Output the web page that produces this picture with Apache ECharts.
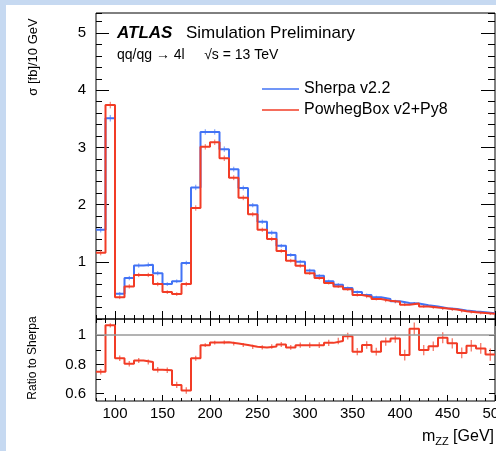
<!DOCTYPE html>
<html>
<head>
<meta charset="utf-8">
<script src="https://cdn.jsdelivr.net/npm/echarts@6/dist/echarts.min.js"></script>
<style>
html, body { margin: 0; padding: 0; background: #c6d9f1; }
#wrap { position: relative; width: 496px; height: 451px; background: #c6d9f1; overflow: hidden; }
#paper { position: absolute; left: 6px; top: 5px; right: 0; bottom: 0; background: #fff; }
#chart { position: absolute; left: 0; top: 0; width: 496px; height: 451px; }
</style>
</head>
<body>
<div id="wrap"><div id="paper"></div><div id="chart"></div></div>
<script>
// bin edges of m_ZZ [GeV], 10 GeV bins
var binEdges = [80, 90, 100, 110, 120, 130, 140, 150, 160, 170, 180, 190, 200, 210, 220, 230, 240, 250, 260, 270, 280,
    290, 300, 310, 320, 330, 340, 350, 360, 370, 380, 390, 400, 410, 420, 430, 440, 450, 460, 470, 480, 490, 500];
// sigma [fb] / 10 GeV
var sherpa = [1.56, 3.51, 0.44, 0.715, 0.935, 0.95, 0.80, 0.61, 0.66, 0.98,
    2.30, 3.27, 3.27, 2.97, 2.62, 2.29, 1.99, 1.70, 1.51, 1.28,
    1.12, 1.00, 0.85, 0.755, 0.66, 0.60, 0.54, 0.47, 0.42, 0.38,
    0.35, 0.31, 0.28, 0.27, 0.24, 0.22, 0.19, 0.175, 0.15, 0.13,
    0.12, 0.10];
var powheg = [1.16, 3.74, 0.38, 0.57, 0.77, 0.77, 0.61, 0.47, 0.435, 0.61,
    1.94, 3.01, 3.09, 2.81, 2.47, 2.12, 1.83, 1.56, 1.40, 1.19,
    1.02, 0.93, 0.80, 0.715, 0.63, 0.57, 0.52, 0.42, 0.39, 0.35,
    0.32, 0.30, 0.25, 0.27, 0.22, 0.20, 0.185, 0.165, 0.135, 0.12,
    0.105, 0.09];
// stat. errors, both generators (small)
var xsErr = [0.03, 0.04, 0.015, 0.02, 0.02, 0.02, 0.02, 0.015, 0.015, 0.02,
    0.03, 0.03, 0.03, 0.03, 0.025, 0.025, 0.02, 0.02, 0.02, 0.015,
    0.015, 0.015, 0.012, 0.012, 0.01, 0.01, 0.01, 0.01, 0.008, 0.008,
    0.008, 0.008, 0.007, 0.007, 0.006, 0.006, 0.006, 0.005, 0.005, 0.005,
    0.005, 0.004];
// Powheg / Sherpa
var ratio = [0.749, 1.067, 0.842, 0.804, 0.827, 0.816, 0.764, 0.76, 0.66, 0.622,
    0.842, 0.931, 0.949, 0.951, 0.942, 0.933, 0.92, 0.916, 0.922, 0.936,
    0.916, 0.931, 0.931, 0.931, 0.947, 0.96, 0.993, 0.887, 0.933, 0.887,
    0.956, 0.976, 0.864, 1.044, 0.898, 0.924, 0.982, 0.944, 0.878, 0.927,
    0.909, 0.867];
var ratioErr = [0.012, 0.008, 0.012, 0.012, 0.01, 0.01, 0.012, 0.012, 0.015, 0.015,
    0.01, 0.006, 0.006, 0.006, 0.006, 0.007, 0.008, 0.008, 0.009, 0.01,
    0.01, 0.011, 0.012, 0.013, 0.014, 0.015, 0.016, 0.018, 0.019, 0.02,
    0.021, 0.022, 0.03, 0.035, 0.028, 0.025, 0.03, 0.028, 0.03, 0.032,
    0.03, 0.035];
// tick labels
var xLabels = [100, 150, 200, 250, 300, 350, 400, 450, 500];
var yLabels = [1, 2, 3, 4, 5];
var rLabels = [0.6, 0.8, 1];
var rMinor = [0.7, 0.9];

var BLUE = '#4273f5';
var RED = '#f23c26';
var FONT = 'Liberation Sans';

function steps(vals) {
    var d = [];
    for (var i = 0; i < vals.length; i++) {
        d.push([binEdges[i], vals[i]]);
    }
    d.push([binEdges[vals.length], vals[vals.length - 1]]);
    return d;
}

function errPoints(vals, errs) {
    var d = [];
    for (var i = 0; i < vals.length; i++) {
        d.push([(binEdges[i] + binEdges[i + 1]) / 2, vals[i], errs[i]]);
    }
    return d;
}

// little vertical error bar at the bin centre
function errBars(name, xi, yi, vals, errs, color, w) {
    return {
        name: name, type: 'custom', xAxisIndex: xi, yAxisIndex: yi,
        data: errPoints(vals, errs),
        encode: { x: 0, y: 1 },
        renderItem: function (params, api) {
            var c = api.value(0), v = api.value(1), e = api.value(2);
            var p1 = api.coord([c, v + e]);
            var p2 = api.coord([c, v - e]);
            return {
                type: 'line',
                shape: { x1: p1[0], y1: p1[1] - 1, x2: p2[0], y2: p2[1] + 1 },
                style: { stroke: color, lineWidth: w, opacity: 0.75 }
            };
        },
        z: 3
    };
}

// one axis = one set of ticks, the frame comes from the grid border
function xAx(grid, pos, len, custom, labels) {
    var a = {
        type: 'value', gridIndex: grid, position: pos, min: 80, max: 500,
        axisLine: { show: false }, splitLine: { show: false },
        axisTick: { show: true, inside: true, length: len, lineStyle: { color: '#000', width: 1 } },
        axisLabel: { show: false }
    };
    if (custom) a.axisTick.customValues = custom; else a.interval = 10;
    if (labels) {
        a.axisLabel = { show: true, customValues: labels, margin: 5, color: '#000',
            fontFamily: FONT, fontSize: 15, alignMinLabel: 'center', alignMaxLabel: 'center' };
    }
    return a;
}

function yAx(grid, pos, min, max, len, custom, labels, fmt) {
    var a = {
        type: 'value', gridIndex: grid, position: pos, min: min, max: max,
        axisLine: { show: false }, splitLine: { show: false },
        axisTick: { show: true, inside: true, length: len, lineStyle: { color: '#000', width: 1 } },
        axisLabel: { show: false }
    };
    if (custom) a.axisTick.customValues = custom; else a.interval = 0.2;
    if (labels) {
        a.axisLabel = { show: true, customValues: labels, margin: 10, color: '#000',
            fontFamily: FONT, fontSize: 15, formatter: fmt };
    }
    return a;
}

var chart = echarts.init(document.getElementById('chart'), null, { renderer: 'canvas' });

var option = {
    backgroundColor: 'transparent',
    animation: false,
    grid: [
        { left: 96, top: 13, right: 1, height: 306, show: true, borderColor: '#000', borderWidth: 1,
            containLabel: false, outerBoundsMode: 'none' },
        { left: 96, top: 319, right: 1, height: 82, show: true, borderColor: '#000', borderWidth: 1,
            containLabel: false, outerBoundsMode: 'none' }
    ],
    xAxis: [
        xAx(0, 'bottom', 4),
        xAx(0, 'bottom', 8, xLabels),
        xAx(0, 'top', 4),
        xAx(0, 'top', 7, xLabels),
        xAx(1, 'bottom', 3),
        xAx(1, 'bottom', 6, xLabels, xLabels)
    ],
    yAxis: [
        yAx(0, 'left', 0, 5.35, 6),
        yAx(0, 'left', 0, 5.35, 13, yLabels, yLabels),
        yAx(0, 'right', 0, 5.35, 7),
        yAx(0, 'right', 0, 5.35, 14, yLabels),
        yAx(1, 'left', 0.55, 1.11, 5, rMinor),
        yAx(1, 'left', 0.55, 1.11, 8, rLabels, rLabels, function (v) { return String(v); }),
        yAx(1, 'right', 0.55, 1.11, 6, rLabels.concat(rMinor))
    ],
    legend: {
        left: 262, top: 81, padding: 0, orient: 'vertical', itemGap: 5, icon: 'rect',
        itemWidth: 37, itemHeight: 1.5,
        textStyle: { fontFamily: FONT, fontSize: 16, color: '#000', lineHeight: 15 },
        data: ['Sherpa v2.2', 'PowhegBox v2+Py8']
    },
    series: [
        {
            name: 'Sherpa v2.2', type: 'line', step: 'end', xAxisIndex: 0, yAxisIndex: 0,
            data: steps(sherpa), symbol: 'none', color: BLUE,
            lineStyle: { color: BLUE, width: 2 }
        },
        errBars('sherpa err', 0, 0, sherpa, xsErr, BLUE, 1),
        {
            name: 'PowhegBox v2+Py8', type: 'line', step: 'end', xAxisIndex: 0, yAxisIndex: 0,
            data: steps(powheg), symbol: 'none', color: RED,
            lineStyle: { color: RED, width: 2 }, z: 3
        },
        errBars('powheg err', 0, 0, powheg, xsErr, RED, 1),
        {
            name: 'ratio', type: 'line', step: 'end', xAxisIndex: 4, yAxisIndex: 4,
            data: steps(ratio), symbol: 'none', color: RED,
            lineStyle: { color: RED, width: 2 },
            markLine: {
                silent: true, symbol: 'none', label: { show: false },
                lineStyle: { color: '#9a9a9a', type: 'solid', width: 1.5 },
                data: [{ yAxis: 1 }]
            },
            z: 3
        },
        errBars('ratio err', 4, 4, ratio, ratioErr, RED, 1.2)
    ],
    graphic: [
        { type: 'text', x: 117, y: 33, style: { text: 'ATLAS', fill: '#000',
            font: 'italic bold 17px ' + FONT, textVerticalAlign: 'middle' } },
        { type: 'text', x: 186, y: 33, style: { text: 'Simulation Preliminary', fill: '#000',
            font: '17px ' + FONT, textVerticalAlign: 'middle' } },
        { type: 'text', x: 117, y: 55, style: { text: 'qq/qg \u2192 4l     \u221As = 13 TeV', fill: '#000',
            font: '14px ' + FONT, textVerticalAlign: 'middle' } },
        { type: 'text', x: 33, y: 57, rotation: Math.PI / 2, style: { text: '\u03C3 [fb]/10 GeV', fill: '#000',
            font: '13px ' + FONT, textAlign: 'center', textVerticalAlign: 'middle' } },
        { type: 'text', x: 33, y: 358, rotation: Math.PI / 2, style: { text: 'Ratio to Sherpa', fill: '#000',
            font: '12px ' + FONT, textAlign: 'center', textVerticalAlign: 'middle' } },
        { type: 'text', x: 494, y: 437, style: {
            text: '{m|m}{s|ZZ}{m| [GeV]}', fill: '#000', textAlign: 'right', textVerticalAlign: 'middle',
            rich: {
                m: { fontFamily: FONT, fontSize: 16, color: '#000' },
                s: { fontFamily: FONT, fontSize: 11, color: '#000', padding: [9, 0, 0, 0] }
            } } }
    ]
};

chart.setOption(option);
</script>
</body>
</html>
